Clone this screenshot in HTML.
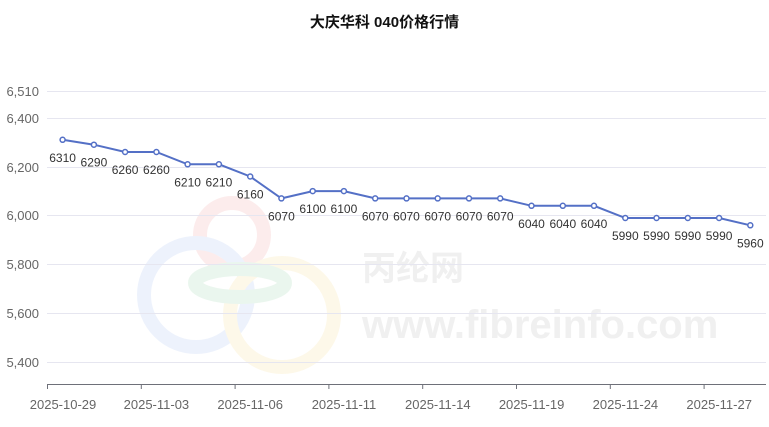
<!DOCTYPE html>
<html><head><meta charset="utf-8"><style>
body{margin:0;background:#fff}
</style></head><body>
<svg width="769" height="422" xmlns="http://www.w3.org/2000/svg" font-family="Liberation Sans, Noto Sans CJK SC, sans-serif">
<rect width="769" height="422" fill="#fff"/>
<g opacity="0.1" fill="none" stroke-width="14">
<circle cx="232" cy="235" r="32" stroke="#e85050"/>
<circle cx="196" cy="295" r="52" stroke="#5b8de8"/>
<circle cx="282" cy="315" r="52" stroke="#f0c030"/>
<ellipse cx="240" cy="283" rx="45" ry="14" stroke="#40b060"/>
</g>
<text x="362" y="280" font-size="34" fill="#f0f0f0" font-weight="bold">丙纶网</text>
<text x="362" y="338" font-size="40" fill="#f0f0f0" font-weight="bold">www.fibreinfo.com</text>
<text x="384.5" y="27" font-size="15" font-weight="bold" text-anchor="middle" fill="#111">大庆华科 040价格行情</text>
<g stroke="#e6e6f0" stroke-width="1">
<line x1="47" x2="766" y1="91.5" y2="91.5"/>
<line x1="47" x2="766" y1="118.5" y2="118.5"/>
<line x1="47" x2="766" y1="167.5" y2="167.5"/>
<line x1="47" x2="766" y1="215.5" y2="215.5"/>
<line x1="47" x2="766" y1="264.5" y2="264.5"/>
<line x1="47" x2="766" y1="313.5" y2="313.5"/>
<line x1="47" x2="766" y1="362.5" y2="362.5"/>
</g>
<g font-size="13" fill="#666" text-anchor="end">
<text x="39" y="96">6,510</text>
<text x="39" y="123">6,400</text>
<text x="39" y="172">6,200</text>
<text x="39" y="220">6,000</text>
<text x="39" y="269">5,800</text>
<text x="39" y="318">5,600</text>
<text x="39" y="367">5,400</text>
</g>
<g stroke="#6e7079">
<line x1="47" x2="766" y1="384.5" y2="384.5"/>
<line x1="47.5" x2="47.5" y1="384" y2="389"/>
<line x1="141.3" x2="141.3" y1="384" y2="389"/>
<line x1="235.1" x2="235.1" y1="384" y2="389"/>
<line x1="328.9" x2="328.9" y1="384" y2="389"/>
<line x1="422.7" x2="422.7" y1="384" y2="389"/>
<line x1="516.5" x2="516.5" y1="384" y2="389"/>
<line x1="610.3" x2="610.3" y1="384" y2="389"/>
<line x1="704.1" x2="704.1" y1="384" y2="389"/>
</g>
<g font-size="13" fill="#666" text-anchor="middle">
<text x="63" y="409">2025-10-29</text>
<text x="156.4" y="409">2025-11-03</text>
<text x="250.2" y="409">2025-11-06</text>
<text x="344" y="409">2025-11-11</text>
<text x="437.8" y="409">2025-11-14</text>
<text x="531.6" y="409">2025-11-19</text>
<text x="625.4" y="409">2025-11-24</text>
<text x="719.2" y="409">2025-11-27</text>
</g>
<polyline fill="none" stroke="#5470c6" stroke-width="2" points="62.6,139.8 93.9,144.7 125.1,152 156.4,152 187.6,164.3 218.9,164.3 250.2,176.5 281.4,198.4 312.7,191.1 343.9,191.1 375.2,198.4 406.5,198.4 437.7,198.4 469,198.4 500.2,198.4 531.5,205.8 562.8,205.8 594,205.8 625.3,218 656.5,218 687.8,218 719.1,218 750.3,225.3"/>
<g fill="#fff" stroke="#5470c6" stroke-width="1.5">
<circle cx="62.6" cy="139.8" r="2.5"/><circle cx="93.9" cy="144.7" r="2.5"/><circle cx="125.1" cy="152" r="2.5"/><circle cx="156.4" cy="152" r="2.5"/><circle cx="187.6" cy="164.3" r="2.5"/><circle cx="218.9" cy="164.3" r="2.5"/><circle cx="250.2" cy="176.5" r="2.5"/><circle cx="281.4" cy="198.4" r="2.5"/><circle cx="312.7" cy="191.1" r="2.5"/><circle cx="343.9" cy="191.1" r="2.5"/><circle cx="375.2" cy="198.4" r="2.5"/><circle cx="406.5" cy="198.4" r="2.5"/><circle cx="437.7" cy="198.4" r="2.5"/><circle cx="469" cy="198.4" r="2.5"/><circle cx="500.2" cy="198.4" r="2.5"/><circle cx="531.5" cy="205.8" r="2.5"/><circle cx="562.8" cy="205.8" r="2.5"/><circle cx="594" cy="205.8" r="2.5"/><circle cx="625.3" cy="218" r="2.5"/><circle cx="656.5" cy="218" r="2.5"/><circle cx="687.8" cy="218" r="2.5"/><circle cx="719.1" cy="218" r="2.5"/><circle cx="750.3" cy="225.3" r="2.5"/>
</g>
<g font-size="12" fill="#333" text-anchor="middle">
<text x="62.6" y="161.8">6310</text><text x="93.9" y="166.7">6290</text><text x="125.1" y="174">6260</text><text x="156.4" y="174">6260</text><text x="187.6" y="186.3">6210</text><text x="218.9" y="186.3">6210</text><text x="250.2" y="198.5">6160</text><text x="281.4" y="220.4">6070</text><text x="312.7" y="213.1">6100</text><text x="343.9" y="213.1">6100</text><text x="375.2" y="220.4">6070</text><text x="406.5" y="220.4">6070</text><text x="437.7" y="220.4">6070</text><text x="469" y="220.4">6070</text><text x="500.2" y="220.4">6070</text><text x="531.5" y="227.8">6040</text><text x="562.8" y="227.8">6040</text><text x="594" y="227.8">6040</text><text x="625.3" y="240">5990</text><text x="656.5" y="240">5990</text><text x="687.8" y="240">5990</text><text x="719.1" y="240">5990</text><text x="750.3" y="247.3">5960</text>
</g>
</svg>
</body></html>
